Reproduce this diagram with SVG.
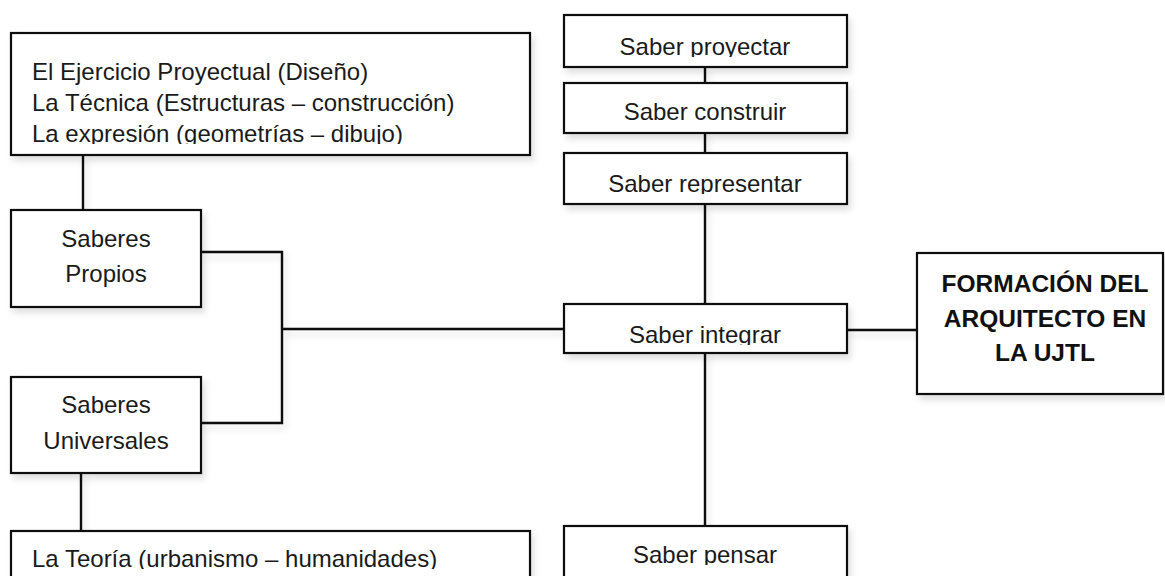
<svg xmlns="http://www.w3.org/2000/svg" width="1165" height="576" viewBox="0 0 1165 576">
  <style>
    .box { fill: #ffffff; stroke: #111111; stroke-width: 2.2; }
    .conn { fill: none; stroke: #111111; stroke-width: 2.4; }
    .t { font-family: "Liberation Sans", Arial, sans-serif; font-size: 24px; fill: #1a1a1a; }
    .c { text-anchor: middle; }
    .b { font-family: "Liberation Sans", Arial, sans-serif; font-size: 24.5px; font-weight: bold; fill: #111111; text-anchor: middle; }
  </style>
  <defs>
    <filter id="sh" x="-20%" y="-20%" width="140%" height="160%">
      <feDropShadow dx="3" dy="5" stdDeviation="3" flood-color="#000000" flood-opacity="0.12"/>
    </filter>
    <clipPath id="clipA3" clipPathUnits="userSpaceOnUse"><rect x="0" y="0" width="1165" height="144"/></clipPath>
    <clipPath id="clipP" clipPathUnits="userSpaceOnUse"><rect x="0" y="0" width="1165" height="57"/></clipPath>
    <clipPath id="clipR" clipPathUnits="userSpaceOnUse"><rect x="0" y="0" width="1165" height="194"/></clipPath>
    <clipPath id="clipI" clipPathUnits="userSpaceOnUse"><rect x="0" y="0" width="1165" height="345"/></clipPath>
    <clipPath id="clipB" clipPathUnits="userSpaceOnUse"><rect x="0" y="0" width="1165" height="569"/></clipPath>
    <clipPath id="clipS" clipPathUnits="userSpaceOnUse"><rect x="0" y="0" width="1165" height="565"/></clipPath>
  </defs>
  <rect x="0" y="0" width="1165" height="576" fill="#ffffff"/>

  <g id="connectors" filter="url(#sh)">
    <line class="conn" x1="83" y1="155" x2="83" y2="210"/>
    <line class="conn" x1="81" y1="473" x2="81" y2="531"/>
    <polyline class="conn" points="201,252 282,252 282,423 201,423"/>
    <line class="conn" x1="282" y1="329" x2="564" y2="329"/>
    <line class="conn" x1="705" y1="67" x2="705" y2="83"/>
    <line class="conn" x1="705" y1="133" x2="705" y2="153"/>
    <line class="conn" x1="705" y1="204" x2="705" y2="304"/>
    <line class="conn" x1="705" y1="353" x2="705" y2="526"/>
    <line class="conn" x1="847" y1="330" x2="917" y2="330"/>
  </g>

  <g id="node-saberes-propios-list">
    <rect class="box" x="11" y="33" width="519" height="122" filter="url(#sh)"/>
    <text class="t" x="32" y="80">El Ejercicio Proyectual (Diseño)</text>
    <text class="t" x="32" y="111">La Técnica (Estructuras – construcción)</text>
    <text class="t" x="32" y="142" clip-path="url(#clipA3)">La expresión (geometrías – dibujo)</text>
  </g>

  <g id="node-saberes-propios">
    <rect class="box" x="11" y="210" width="190" height="97" filter="url(#sh)"/>
    <text class="t c" x="106" y="247">Saberes</text>
    <text class="t c" x="106" y="282">Propios</text>
  </g>

  <g id="node-saberes-universales">
    <rect class="box" x="11" y="377" width="190" height="96" filter="url(#sh)"/>
    <text class="t c" x="106" y="413">Saberes</text>
    <text class="t c" x="106" y="449">Universales</text>
  </g>

  <g id="node-teoria">
    <rect class="box" x="11" y="531" width="519" height="70" filter="url(#sh)"/>
    <text class="t" x="32" y="567" clip-path="url(#clipB)">La Teoría (urbanismo – humanidades)</text>
  </g>

  <g id="node-saber-proyectar">
    <rect class="box" x="564" y="15" width="283" height="52" filter="url(#sh)"/>
    <text class="t c" x="705" y="55" clip-path="url(#clipP)">Saber proyectar</text>
  </g>

  <g id="node-saber-construir">
    <rect class="box" x="564" y="83" width="283" height="50" filter="url(#sh)"/>
    <text class="t c" x="705" y="120">Saber construir</text>
  </g>

  <g id="node-saber-representar">
    <rect class="box" x="564" y="153" width="283" height="51" filter="url(#sh)"/>
    <text class="t c" x="705" y="192" clip-path="url(#clipR)">Saber representar</text>
  </g>

  <g id="node-saber-integrar">
    <rect class="box" x="564" y="304" width="283" height="49" filter="url(#sh)"/>
    <text class="t c" x="705" y="343" clip-path="url(#clipI)">Saber integrar</text>
  </g>

  <g id="node-saber-pensar">
    <rect class="box" x="564" y="526" width="283" height="75" filter="url(#sh)"/>
    <text class="t c" x="705" y="563" clip-path="url(#clipS)">Saber pensar</text>
  </g>

  <g id="node-formacion">
    <rect class="box" x="917" y="253" width="246" height="141" stroke-width="2.6" filter="url(#sh)"/>
    <text class="b" x="1045" y="292">FORMACIÓN DEL</text>
    <text class="b" x="1045" y="327">ARQUITECTO EN</text>
    <text class="b" x="1045" y="361">LA UJTL</text>
  </g>
</svg>
